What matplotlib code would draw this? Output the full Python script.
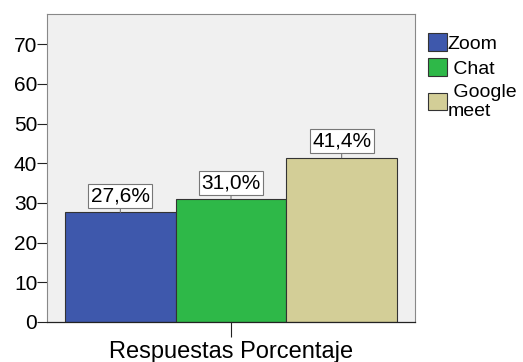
import matplotlib.pyplot as plt
from matplotlib.patches import Patch

categories = ["Zoom", "Chat", "Google\nmeet"]
values = [27.6, 31.0, 41.4]
labels = ["27,6%", "31,0%", "41,4%"]
colors = ["#3E58AC", "#2EB848", "#D3CE97"]
yticks = [0, 10, 20, 30, 40, 50, 60, 70]

plt.rcParams['font.family'] = ['Liberation Sans', 'DejaVu Sans']

fig = plt.figure(figsize=(5.23, 3.62), dpi=100)
ax = fig.add_axes([0.0899, 0.1105, 0.7036, 0.8508])
ax.set_facecolor("#F0F0F0")

x = list(range(len(values)))
ax.bar(x, values, width=1.0, color=colors, edgecolor="#333333", linewidth=0.8, zorder=2)

for xi, v, lab in zip(x, values, labels):
    ax.annotate(lab, xy=(xi, v), xytext=(0, 5), textcoords="offset points",
                ha="center", va="bottom", fontsize=15,
                bbox=dict(boxstyle="square,pad=0.12", fc="white", ec="#777777", lw=0.8),
                arrowprops=dict(arrowstyle="-", color="#777777", lw=0.8,
                                shrinkA=0, shrinkB=0),
                zorder=3)

ax.set_xlim(-0.663, 2.663)
ax.set_ylim(0, 77.6)
ax.set_yticks(yticks)
ax.tick_params(axis="y", labelsize=15, length=7, width=0.8, pad=0, color="#222222")
ax.set_xticks([1])
ax.set_xticklabels([""])
ax.tick_params(axis="x", length=11, width=0.8, color="#222222")
ax.set_xlabel("Respuestas Porcentaje", fontsize=17, labelpad=-1)

for side in ["top", "right", "left"]:
    ax.spines[side].set_color("#888888")
    ax.spines[side].set_linewidth(0.8)
ax.spines["bottom"].set_color("#222222")
ax.spines["bottom"].set_linewidth(0.9)

handles = [Patch(facecolor=c, edgecolor="#333333", linewidth=0.8) for c in colors]
leg_labels = ["Zoom", " Chat", " Google\nmeet"]
fig.legend(handles, leg_labels, loc="upper left", bbox_to_anchor=(0.8, 0.935),
           frameon=False, fontsize=14, handlelength=0.95, handleheight=1.0,
           handletextpad=0.05, labelspacing=0.3, borderpad=0)

fig.savefig("out.png", dpi=100)
